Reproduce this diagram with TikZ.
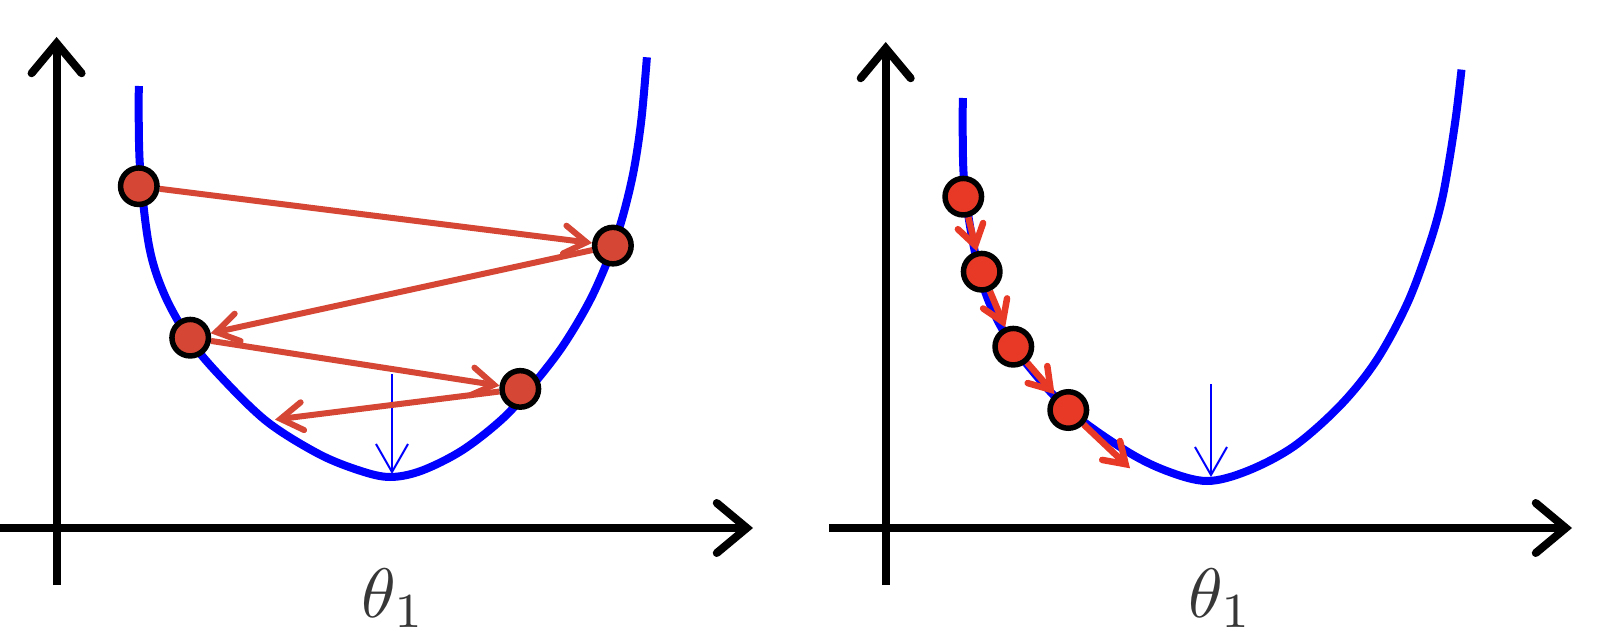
\documentclass[tikz,border=0pt]{standalone}
\usetikzlibrary{arrows.meta}
\definecolor{curveblue}{RGB}{0,0,255}
\definecolor{redL}{RGB}{214,70,52}
\definecolor{redR}{RGB}{232,56,38}
\definecolor{labelgray}{RGB}{55,55,55}
\pgfdeclarelayer{bg}
\pgfsetlayers{bg,main}
\begin{document}
\begin{tikzpicture}[x=1pt,y=-1pt,
  axisline/.style={line width=8pt, -{Straight Barb[length=30pt,width=50pt,line cap=round]}},
  curveline/.style={draw=curveblue, line width=8pt, smooth, tension=0.55},
  minarrow/.style={draw=curveblue, line width=2pt, -{Straight Barb[length=28pt,width=32pt]}},
  ptL/.style={circle, draw=black, fill=redL, line width=5.5pt, minimum size=36.5pt, inner sep=0pt},
  ptR/.style={circle, draw=black, fill=redR, line width=5.5pt, minimum size=36.5pt, inner sep=0pt},
  stepL/.style={draw=redL, line width=6pt, -{Straight Barb[length=22pt,width=28pt,line cap=round]}},
  stepR/.style={draw=redR, line width=6.5pt, -{Straight Barb[length=20pt,width=26pt,line cap=round]}},
  axlabel/.style={text=labelgray, scale=7, inner sep=0pt, anchor=base}
]
\useasboundingbox (0,0) rectangle (1612,642);

% ---------- left panel ----------
\coordinate (yL0) at (56.6,585);
\coordinate (yL1) at (56.6,37);
\coordinate (xL0) at (0,528);
\coordinate (xL1) at (753,528);
\draw[axisline] (yL0) -- (yL1);
\draw[axisline] (xL0) -- (xL1);
\node[axlabel] (thL) at (394,617) {$\theta_1$};

\node[ptL] (A) at (138.8,186.2) {};
\node[ptL] (B) at (612.9,245.6) {};
\node[ptL] (C) at (190.2,337.7) {};
\node[ptL] (D) at (520.3,388.9) {};
\coordinate (E) at (275,419.6);
\coordinate (mLt) at (392,374);
\coordinate (mL) at (392,474);

\begin{pgfonlayer}{bg}
\draw[curveline] plot coordinates {(138.8,86) (139.8,163.7) (149,245.6) (164.5,294.7) (190,340) (221,377) (267,421.6) (318.8,454) (360,470.7) (390,477) (421.6,470.7) (462.7,450) (503.9,417.5) (534.7,382.7) (564.3,343.8) (592.8,294.7) (616.3,237.4) (631.8,180) (641,122.8) (646.9,57.3)};
\draw[minarrow] (mLt) -- (mL);
\draw[stepL] (A) -- (B);
\draw[stepL] (B) -- (C);
\draw[stepL] (C) -- (D);
\draw[stepL] (D) -- (E);
\end{pgfonlayer}

% ---------- right panel ----------
\coordinate (yR0) at (885.7,585);
\coordinate (yR1) at (885.7,42);
\coordinate (xR0) at (829,528);
\coordinate (xR1) at (1572,528);
\draw[axisline] (yR0) -- (yR1);
\draw[axisline] (xR0) -- (xR1);
\node[axlabel] (thR) at (1221,617) {$\theta_1$};

\node[ptR] (P1) at (963.3,196.7) {};
\node[ptR] (P2) at (981.7,271.7) {};
\node[ptR] (P3) at (1013.3,346.7) {};
\node[ptR] (P4) at (1068.3,410) {};
\coordinate (P5) at (1130,468.3);
\coordinate (mRt) at (1211,384);
\coordinate (mR) at (1211,477);

\begin{pgfonlayer}{bg}
\draw[curveline] plot coordinates {(962.8,98) (963.5,172) (970.5,229) (983.4,286.5) (1001.4,327.5) (1027,364.3) (1068,409.3) (1124.8,450) (1166,470.7) (1207,481) (1248,470.7) (1294.4,446) (1340.7,405) (1376.7,360) (1407.5,303) (1429,245.6) (1441,204) (1448.7,163.7) (1456,116) (1461.5,69.6)};
\draw[minarrow] (mRt) -- (mR);
\draw[stepR] (P1) -- (P2);
\draw[stepR] (P2) -- (P3);
\draw[stepR] (P3) -- (P4);
\draw[stepR] (P4) -- (P5);
\end{pgfonlayer}
\end{tikzpicture}
\end{document}
